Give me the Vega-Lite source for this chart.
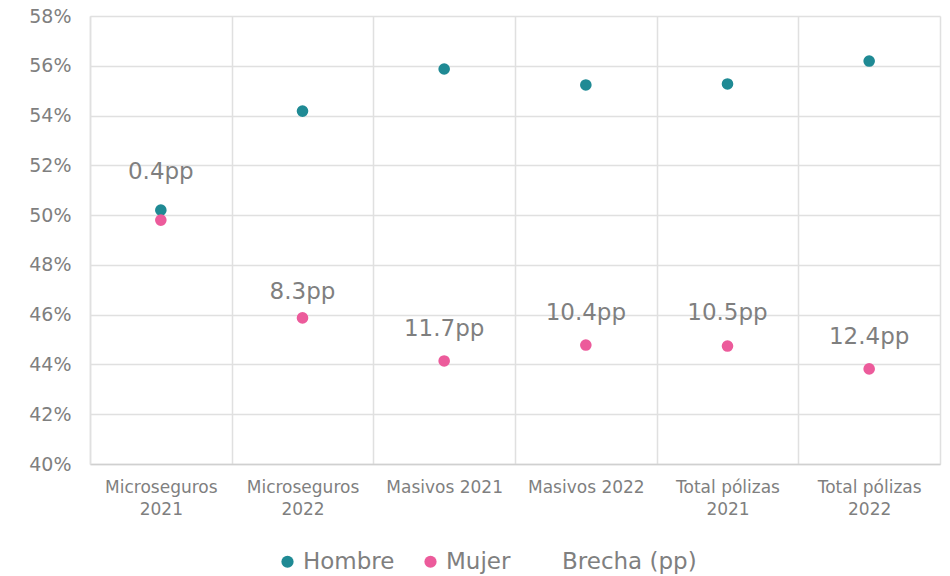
{
  "$schema": "https://vega.github.io/schema/vega-lite/v6.json",
  "width": 850,
  "height": 448,
  "autosize": "none",
  "padding": {"left": 90, "top": 16, "right": 10, "bottom": 112},
  "background": "white",
  "config": {
    "font": "DejaVu Sans",
    "view": {"stroke": null}
  },
  "data": {
    "values": [
      {"cat": "Microseguros 2021", "hombre": 0.502, "mujer": 0.498, "brecha": "\u00a0\u00a0\u00a0\u00a0\u00a00.4pp", "brecha_pos": 0.5173},
      {"cat": "Microseguros 2022", "hombre": 0.5418, "mujer": 0.4587, "brecha": "\u00a0\u00a0\u00a0\u00a0\u00a08.3pp", "brecha_pos": 0.4691},
      {"cat": "Masivos 2021", "hombre": 0.5587, "mujer": 0.4414, "brecha": "11.7pp", "brecha_pos": 0.4542},
      {"cat": "Masivos 2022", "hombre": 0.5523, "mujer": 0.4478, "brecha": "10.4pp", "brecha_pos": 0.4607},
      {"cat": "Total pólizas 2021", "hombre": 0.5527, "mujer": 0.4474, "brecha": "10.5pp", "brecha_pos": 0.4607},
      {"cat": "Total pólizas 2022", "hombre": 0.5619, "mujer": 0.4382, "brecha": "12.4pp", "brecha_pos": 0.451}
    ]
  },
  "encoding": {
    "x": {
      "field": "cat",
      "type": "nominal",
      "sort": null,
      "scale": {"paddingInner": 0, "paddingOuter": 0},
      "axis": {
        "title": null,
        "labelAngle": 0,
        "labelFont": "DejaVu Sans",
        "labelFontSize": 17,
        "labelColor": "#7F7F7F",
        "labelPadding": 15,
        "labelLineHeight": 22,
        "labelExpr": "test(/^Masivos/, datum.label) ? datum.label : [slice(datum.label, 0, lastindexof(datum.label, ' ')), slice(datum.label, lastindexof(datum.label, ' ') + 1)]",
        "grid": true,
        "tickBand": "extent",
        "gridColor": "#E0E0E0",
        "gridWidth": 1.5,
        "ticks": false,
        "domainColor": "#D0D0D0",
        "domainWidth": 1.5
      }
    }
  },
  "layer": [
    {
      "transform": [
        {"fold": ["hombre", "mujer"], "as": ["serie", "valor"]},
        {"calculate": "datum.serie == 'hombre' ? 'Hombre' : 'Mujer'", "as": "Serie"}
      ],
      "mark": {"type": "circle", "size": 135, "opacity": 1},
      "encoding": {
        "y": {
          "field": "valor",
          "type": "quantitative",
          "scale": {"domain": [0.4, 0.58], "nice": false, "zero": false},
          "axis": {
            "title": null,
            "format": ".0%",
            "values": [0.4, 0.42, 0.44, 0.46, 0.48, 0.5, 0.52, 0.54, 0.56, 0.58],
            "labelFont": "DejaVu Sans",
            "labelFontSize": 19,
            "labelColor": "#7F7F7F",
            "labelPadding": 19,
            "ticks": false,
            "domain": true,
            "domainColor": "#E0E0E0",
            "domainWidth": 1.5,
            "gridColor": "#E0E0E0",
            "gridWidth": 1.5
          }
        },
        "color": {
          "field": "Serie",
          "type": "nominal",
          "scale": {
            "domain": ["Hombre", "Mujer", "Brecha  (pp)"],
            "range": ["#1F8A94", "#EC5B9B", "rgba(0,0,0,0)"]
          },
          "legend": {
            "title": null,
            "orient": "none",
            "legendX": 186,
            "legendY": 534,
            "direction": "horizontal",
            "symbolType": "circle",
            "symbolSize": 150,
            "symbolOpacity": 1,
            "labelFont": "DejaVu Sans",
            "labelFontSize": 23,
            "labelColor": "#7F7F7F",
            "labelOffset": 4,
            "columnPadding": 24
          }
        }
      }
    },
    {
      "mark": {"type": "text", "font": "DejaVu Sans", "fontSize": 23, "color": "#7F7F7F", "baseline": "middle", "align": "center"},
      "encoding": {
        "y": {"field": "brecha_pos", "type": "quantitative"},
        "text": {"field": "brecha"}
      }
    }
  ]
}
